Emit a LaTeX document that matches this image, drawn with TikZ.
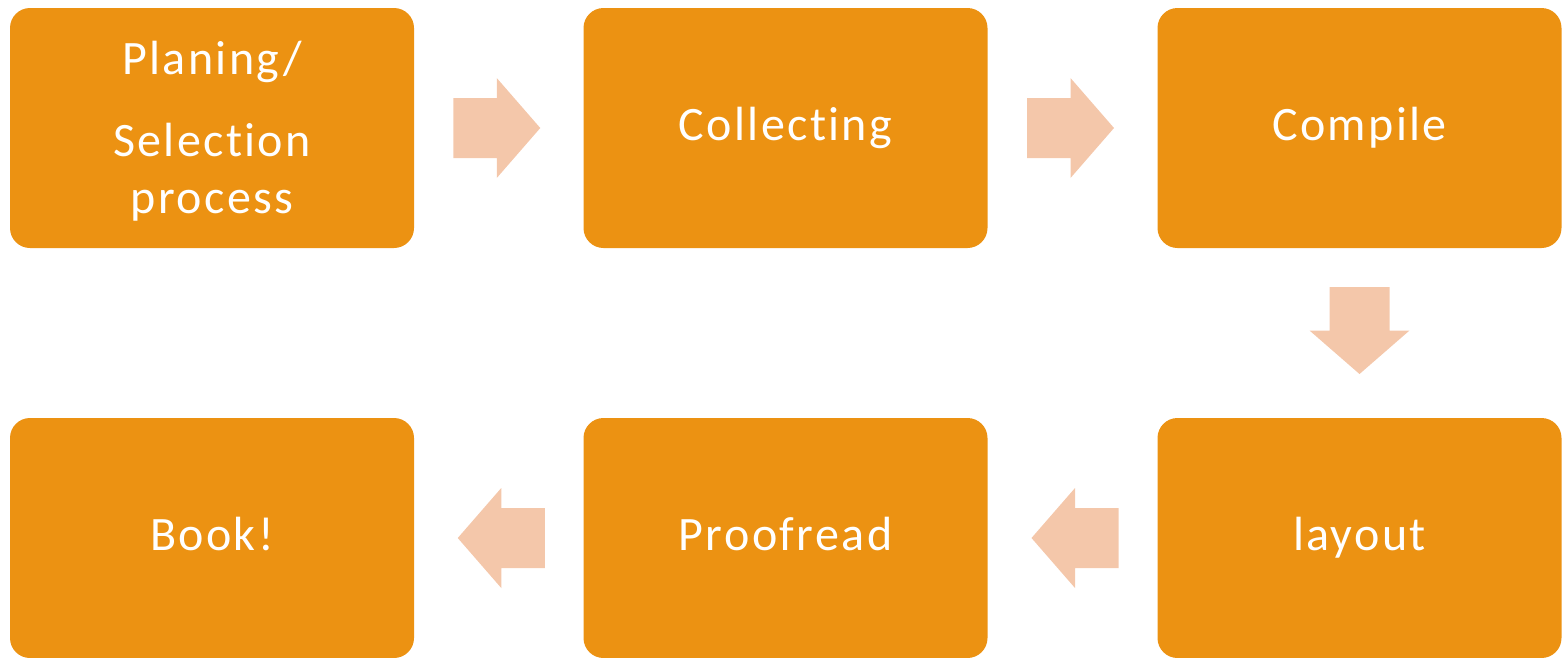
\documentclass[tikz,border=0pt]{standalone}
\usepackage{fontspec}
\setmainfont{Carlito}[LetterSpace=5,Ligatures={NoCommon}]
\usetikzlibrary{calc}
\definecolor{boxc}{HTML}{EC9212}
\definecolor{arrowc}{HTML}{F4C7AA}
\tikzset{
  box/.style={fill=boxc, rounded corners=20pt, minimum width=404pt, minimum height=240pt,
    text=white, font=\fontsize{48}{57}\selectfont, text height=34pt, text depth=10pt, inner sep=0pt},
  blockarrow/.pic={\fill[arrowc] (-43.5,-30) -- (0,-30) -- (0,-50) -- (43.5,0) -- (0,50) -- (0,30) -- (-43.5,30) -- cycle;}
}
\begin{document}
\begin{tikzpicture}[x=1pt,y=-1pt]
\useasboundingbox (0,0) rectangle (1566,657);
\node[box] (b1) at (212,128) {};
\node[text=white, font=\fontsize{48}{57}\selectfont, align=center, inner sep=0pt] (t1) at (212,131) {Planing/\\[25pt]Selection\\process};
\node[box] (b2) at (785.5,128) {Collecting};
\node[box] (b3) at (1359.5,128) {Compile};
\node[box] (b4) at (1359.5,538) {layout};
\node[box] (b5) at (785.5,538) {Proofread};
\node[box] (b6) at (212,538) {Book!};
\pic at ($(b1.east)!0.5!(b2.west)+(-2,0)$) {blockarrow};
\pic at ($(b2.east)!0.5!(b3.west)+(-2,0)$) {blockarrow};
\pic[rotate=-90] at ($(b3.south)!0.5!(b4.north)+(0,-2.5)$) {blockarrow};
\pic[rotate=180] at ($(b4.west)!0.5!(b5.east)+(2.5,0)$) {blockarrow};
\pic[rotate=180] at ($(b5.west)!0.5!(b6.east)+(2.5,0)$) {blockarrow};
\end{tikzpicture}
\end{document}
